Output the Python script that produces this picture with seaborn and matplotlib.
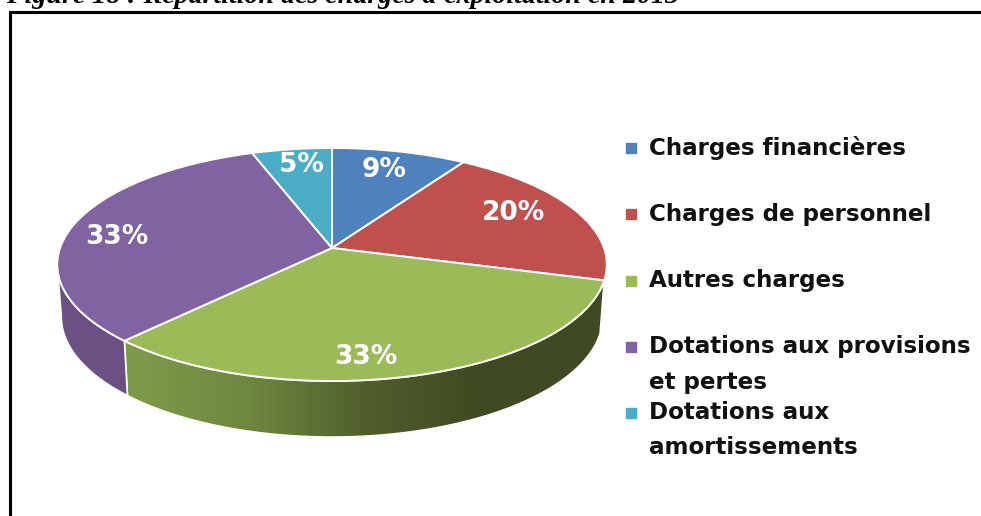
import numpy as np
import seaborn as sns
import matplotlib.pyplot as plt
from matplotlib.colors import LinearSegmentedColormap
from matplotlib.patches import Polygon
from matplotlib.transforms import Transform

sns.set_theme(style="white")

categories = ["Charges financières", "Charges de personnel", "Autres charges",
              "Dotations aux provisions\net pertes", "Dotations aux\namortissements"]
shares = [9.1, 20.3, 32.6, 32.6, 5.4]
title = "Figure 18 : Répartition des charges d'exploitation en 2013"

palette = sns.color_palette(["#4f81bd", "#c0504d", "#9bbb59", "#8064a2", "#4bacc6"])
FONT = "DejaVu Sans"

# pie apex and tilt, in image pixels
CX, CY = 332, 248
RX, RY, TILT = 272, 114.2, 0.1416


class Tilted(Transform):
    """ Unit circle -> perspective ellipse, in image pixels """
    input_dims = output_dims = 2

    def transform_non_affine(self, values):
        values = np.asarray(values)
        w = 1 / (1 + TILT * values[:, 1])
        return np.column_stack([CX + RX * values[:, 0] * w, CY - RY * values[:, 1] * w])


def rim(theta1, theta2):
    t = np.radians(np.linspace(theta1, theta2, 120))
    return Tilted().transform_non_affine(np.column_stack([np.cos(t), np.sin(t)]))


def wall(theta1, theta2):
    """ Outline of the side of the pie under an arc """
    top = rim(theta1, theta2)
    x = CX + (top[:, 0] - CX) * 0.985
    y = CY + (top[:, 1] - CY) * 1.03 + 52
    return np.vstack([top, np.column_stack([x, y])[::-1]])


fig = plt.figure(figsize=(9.81, 5.16), dpi=100)
ax = fig.add_axes([0, 0, 1, 1])

wedges, _, autotexts = ax.pie(shares, colors=palette, startangle=90, counterclock=False,
                              autopct="%.0f%%", wedgeprops={"edgecolor": "white", "linewidth": 1.4})
tilted = Tilted() + ax.transData
for wedge in wedges:
    wedge.set_transform(tilted)
    wedge.set_zorder(3)

# side of the pie
green = wedges[2]
outline = Polygon(wall(green.theta1, green.theta2), closed=True, fc="none", ec="white", lw=1.2, zorder=2)
ax.add_patch(outline)
shade = LinearSegmentedColormap.from_list("side", ["#7f9b4a", "#6f8840", "#505e2c", "#3f4922", "#3f4922"])
img = ax.imshow(np.linspace(0, 1, 256)[None, :], cmap=shade, extent=(125, 606, 440, 280),
                aspect="auto", zorder=1)
img.set_clip_path(outline)

purple = wedges[3]
ax.add_patch(Polygon(wall(-172, purple.theta2), closed=True, fc="#6b5083", ec="white", lw=1.2, zorder=2))

label_xy = [(384, 170), (513, 213), (366, 357), (117, 237), (301, 165)]
for text, xy in zip(autotexts, label_xy):
    text.set_position(xy)
    text.set(color="white", fontsize=19, fontweight="bold", family=FONT, ha="center", va="center", zorder=4)

# legend, the wrapped entries break the regular spacing
legend_y = [148, 214, 281, 347, 413]
line_y = [148, 214, 281, 364.5, 430]
for name, color, sq, ty in zip(categories, palette, legend_y, line_y):
    ax.scatter([631], [sq], marker="s", s=62, color=color, zorder=4)
    ax.text(649, ty, name, fontsize=16.6, fontweight="bold", family=FONT, color="#111111",
            va="center", ha="left", linespacing=1.72)

# frame and the cut off caption
ax.plot([10, 10, 981], [516, 12, 12], color="black", lw=2.2, solid_joinstyle="miter")
ax.text(6, 3, title, fontsize=20.2, fontweight="bold", style="italic", family="Liberation Serif",
        color="black", va="baseline", ha="left")

ax.set_aspect("auto")
ax.set_xlim(0, 981)
ax.set_ylim(516, 0)
ax.axis("off")

fig.savefig("out.png", dpi=100)
